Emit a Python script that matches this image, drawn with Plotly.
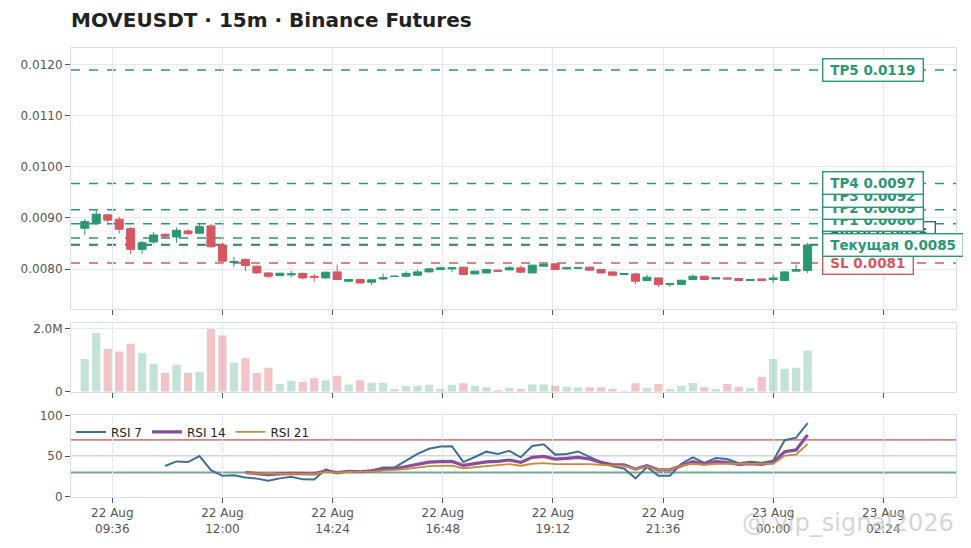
import pandas as pd
import plotly.graph_objects as go
from plotly.subplots import make_subplots

# ─── данные: MOVEUSDT 15m ───
times = pd.date_range("2025-08-22 09:00", periods=64, freq="15min")

opens = [0.00880, 0.00889, 0.009061, 0.008977, 0.008792, 0.008387, 0.008531, 0.008682,
         0.008629, 0.008747, 0.008702, 0.008845, 0.008472, 0.008128, 0.008191, 0.008059,
         0.007927, 0.007876, 0.007888, 0.007916, 0.007862, 0.007829, 0.007947, 0.007764,
         0.007798, 0.007745, 0.007809, 0.007857, 0.007862, 0.007882, 0.007947, 0.007994,
         0.008006, 0.008039, 0.007908, 0.007927, 0.007980, 0.007986, 0.008026, 0.007927,
         0.008059, 0.008104, 0.008006, 0.008020, 0.008039, 0.007994, 0.007947, 0.007896,
         0.007908, 0.007778, 0.007829, 0.007699, 0.007699, 0.007798, 0.007862, 0.007809,
         0.007829, 0.007817, 0.007778, 0.007809, 0.007798, 0.007778, 0.007961, 0.007974]
highs = [0.008982, 0.009159, 0.009081, 0.009022, 0.008825, 0.008550, 0.008727, 0.008698,
         0.008812, 0.008780, 0.008890, 0.008878, 0.008517, 0.008236, 0.008206, 0.008069,
         0.007941, 0.007931, 0.007961, 0.007931, 0.007908, 0.007951, 0.008092, 0.007807,
         0.007804, 0.007804, 0.007916, 0.007872, 0.007961, 0.007994, 0.008020, 0.008035,
         0.008029, 0.008049, 0.007971, 0.008010, 0.007988, 0.008059, 0.008073, 0.008088,
         0.008108, 0.008118, 0.008033, 0.008033, 0.008045, 0.008000, 0.007953, 0.007925,
         0.007915, 0.007896, 0.007835, 0.007723, 0.007790, 0.007896, 0.007870, 0.007835,
         0.007835, 0.007825, 0.007804, 0.007815, 0.007896, 0.007955, 0.008092, 0.008517]
lows = [0.008668, 0.008874, 0.008865, 0.008694, 0.008289, 0.008301, 0.008497, 0.008584,
        0.008517, 0.008662, 0.008688, 0.008419, 0.008124, 0.008039, 0.007961, 0.007912,
        0.007833, 0.007862, 0.007843, 0.007804, 0.007764, 0.007813, 0.007784, 0.007754,
        0.007719, 0.007686, 0.007784, 0.007847, 0.007853, 0.007876, 0.007937, 0.007986,
        0.007941, 0.007886, 0.007898, 0.007921, 0.007953, 0.007980, 0.007931, 0.007921,
        0.008049, 0.007980, 0.008000, 0.008012, 0.007975, 0.007917, 0.007872, 0.007890,
        0.007711, 0.007768, 0.007652, 0.007652, 0.007693, 0.007792, 0.007790, 0.007803,
        0.007803, 0.007770, 0.007772, 0.007772, 0.007731, 0.007772, 0.007955, 0.007927]
closes = [0.008929, 0.009075, 0.008957, 0.008780, 0.008387, 0.008517, 0.008668, 0.008643,
          0.008760, 0.008694, 0.008831, 0.008438, 0.008157, 0.008151, 0.008073, 0.007927,
          0.007862, 0.007921, 0.007908, 0.007829, 0.007843, 0.007941, 0.007798, 0.007798,
          0.007731, 0.007794, 0.007833, 0.007862, 0.007916, 0.007947, 0.008006, 0.008026,
          0.008026, 0.007896, 0.007961, 0.007994, 0.007961, 0.008026, 0.007941, 0.008079,
          0.008092, 0.007994, 0.008026, 0.008026, 0.007980, 0.007927, 0.007882, 0.007916,
          0.007764, 0.007843, 0.007699, 0.007719, 0.007784, 0.007862, 0.007798, 0.007829,
          0.007809, 0.007778, 0.007798, 0.007778, 0.007829, 0.007947, 0.007994, 0.008472]

volumes_m = [1.04, 1.87, 1.36, 1.28, 1.53, 1.23, 0.89, 0.60, 0.86, 0.60, 0.64, 2.00, 1.79, 0.92,
             1.07, 0.60, 0.76, 0.25, 0.35, 0.31, 0.43, 0.37, 0.51, 0.23, 0.37, 0.29, 0.29, 0.09,
             0.19, 0.19, 0.22, 0.09, 0.22, 0.27, 0.19, 0.14, 0.05, 0.12, 0.09, 0.23, 0.23, 0.19,
             0.16, 0.14, 0.14, 0.14, 0.09, 0.03, 0.27, 0.12, 0.25, 0.09, 0.19, 0.28, 0.14, 0.09,
             0.25, 0.16, 0.12, 0.48, 1.04, 0.73, 0.76, 1.31]

N = None
rsi7 = [N, N, N, N, N, N, N, 37.9, 43.6, 42.8, 50.2, 32.9, 25.9, 26.7, 23.9, 22.5, 20.0, 22.8,
        24.7, 21.6, 21.4, 33.9, 28.8, 31.7, 30.5, 32.6, 36.2, 36.2, 44.4, 52.7, 59.0, 61.9, 62.1,
        42.8, 49.0, 55.5, 52.7, 56.5, 48.6, 62.5, 64.6, 51.9, 52.7, 55.8, 49.2, 42.7, 37.5, 35.0,
        22.8, 36.7, 26.0, 26.0, 40.8, 48.6, 41.8, 47.7, 46.5, 41.3, 43.1, 41.8, 44.4, 69.5, 72.7, 90.5]
rsi14 = [N] * 14 + [30.0, 28.8, 27.4, 28.4, 29.0, 28.6, 28.4, 32.1, 30.0, 31.5, 30.9, 31.9, 33.8,
        34.6, 37.0, 39.9, 42.6, 43.4, 43.6, 38.7, 40.6, 43.0, 43.6, 45.3, 42.4, 48.6, 49.8, 46.5,
        47.3, 48.6, 46.5, 42.4, 39.5, 39.5, 34.1, 38.3, 33.3, 33.3, 38.3, 43.2, 40.3, 43.2, 42.4,
        40.0, 40.7, 40.0, 42.4, 55.5, 57.6, 76.1]
rsi21 = [N] * 14 + [29.0, 28.5, 28.0, 28.3, 28.6, 28.5, 28.4, 30.8, 29.8, 30.6, 30.4, 31.0, 32.2,
        33.0, 34.2, 36.0, 37.8, 38.2, 38.3, 35.2, 36.5, 38.3, 39.0, 40.3, 38.3, 40.7, 41.5, 40.3,
        40.3, 40.7, 40.3, 39.5, 38.3, 38.3, 34.1, 37.4, 33.3, 33.3, 38.3, 40.7, 39.5, 40.7, 40.7,
        40.3, 40.3, 40.3, 40.7, 50.6, 51.8, 65.0]

# уровни сигнала
level_names = ["Entry", "SL", "Текущая", "TP1", "TP2", "TP3", "TP4", "TP5"]
level_values = [0.00848, 0.00812, closes[-1], 0.00861, 0.008886, 0.009161, 0.009672, 0.01189]

GREEN = "#2a9873"
RED = "#d65760"
ENTRY = "#44607f"
level_colors = {"SL": RED, "Entry": ENTRY}

fig = make_subplots(rows=3, cols=1, shared_xaxes=True)

fig.add_trace(go.Candlestick(
    x=times, open=opens, high=highs, low=lows, close=closes,
    increasing=dict(line=dict(color=GREEN, width=1), fillcolor=GREEN),
    decreasing=dict(line=dict(color=RED, width=1), fillcolor=RED),
    whiskerwidth=0, showlegend=False, name="MOVEUSDT",
), row=1, col=1)

vol_colors = ["rgba(42,152,115,0.28)" if c >= o else "rgba(214,87,96,0.35)"
              for o, c in zip(opens, closes)]
fig.add_trace(go.Bar(
    x=times, y=[v * 1e6 for v in volumes_m], marker_color=vol_colors,
    marker_line_width=0, width=15 * 60 * 1000 * 0.72, showlegend=False, name="Volume",
), row=2, col=1)

fig.add_trace(go.Scatter(x=times, y=rsi7, mode="lines", name="RSI 7",
                         line=dict(color="#3f6f98", width=2)), row=3, col=1)
fig.add_trace(go.Scatter(x=times, y=rsi14, mode="lines", name="RSI 14",
                         line=dict(color="#8a4c9c", width=3.2)), row=3, col=1)
fig.add_trace(go.Scatter(x=times, y=rsi21, mode="lines", name="RSI 21",
                         line=dict(color="#c98b3c", width=1.8)), row=3, col=1)

# горизонтальные уровни RSI
fig.add_hline(y=70, line=dict(color="#cf8586", width=1.8), row=3, col=1, layer="below")
fig.add_hline(y=50, line=dict(color="#a5adb5", width=1.2), row=3, col=1, layer="below")
fig.add_hline(y=30, line=dict(color="#78a597", width=2.2), row=3, col=1, layer="below")

# линии TP/SL/Entry и подписи с раздвижкой (текущая ниже входа)
y_lo, y_hi = 0.00723, 0.01232
px_per_unit = 260 / (y_hi - y_lo)
min_gap = 12.3 / px_per_unit
stack = ["SL", "Текущая", "Entry", "TP1", "TP2", "TP3", "TP4", "TP5"]
label_y = {}
prev = None
for name in stack:
    y = level_values[level_names.index(name)]
    if prev is not None and y < prev + min_gap:
        y = prev + min_gap
    label_y[name] = y
    prev = y

for name, val in zip(level_names, level_values):
    col = level_colors.get(name, GREEN)
    fig.add_hline(y=val, line=dict(color=col, width=1.6, dash="dash"), row=1, col=1, layer="below")

draw_order = ["Entry", "TP1", "TP2", "TP3", "TP4", "TP5", "SL", "Текущая"]
for name in draw_order:
    val = level_values[level_names.index(name)]
    col = level_colors.get(name, GREEN)
    fig.add_annotation(
        x=0.849, xref="paper", xanchor="left", y=label_y[name], yref="y", yanchor="middle",
        text=f"&nbsp;<b>{name} {val:.4f}</b>&nbsp;", showarrow=False,
        font=dict(color=col, size=13.5), bgcolor="white", bordercolor=col,
        borderwidth=1.4, borderpad=2.5,
    )

# водяной знак
fig.add_annotation(x=1.0, xref="paper", xanchor="right", y=-0.058, yref="paper", yanchor="middle",
                   text="@ vip_signal2026", showarrow=False,
                   font=dict(size=24, color="rgba(200,200,200,0.75)"))

GRID = "#e3ebf1"
FRAME = "#d5e0e8"
x_range = ["2025-08-22 08:42", "2025-08-23 03:59"]
for i, dom in zip([1, 2, 3], [[0.4196, 1.0], [0.2344, 0.3884], [0.0, 0.1819]]):
    fig.update_xaxes(
        row=i, col=1, range=x_range, rangeslider_visible=False, type="date",
        tick0="2025-08-22 09:36", dtick=2.4 * 3600 * 1000, tickformat="%d %b<br>%H:%M",
        showgrid=True, gridcolor=GRID, ticks="outside", ticklen=5, tickcolor="#555",
        showline=True, linecolor=FRAME, mirror=True,
    )
    fig.update_yaxes(
        row=i, col=1, domain=dom, showgrid=True, gridcolor=GRID, ticks="outside",
        ticklen=5, tickcolor="#555", showline=True, linecolor=FRAME, mirror=True,
        zeroline=False,
    )

fig.update_yaxes(row=1, col=1, range=[y_lo, y_hi], dtick=0.001, tickformat=".4f")
fig.update_yaxes(row=2, col=1, range=[0, 2.2e6], tickvals=[0, 2e6], ticktext=["0", "2.0M"])
fig.update_yaxes(row=3, col=1, range=[0, 100], tickvals=[0, 50, 100])

# страница даёт отступ 8px, поэтому фигура чуть меньше окна
fig.update_layout(
    width=957, height=536,
    margin=dict(l=63, r=8, t=40, b=44),
    paper_bgcolor="white", plot_bgcolor="white",
    font=dict(family="DejaVu Sans", size=12, color="#555"),
    title=dict(text="<b>MOVEUSDT · 15m · Binance Futures</b>", x=63 / 957, xanchor="left",
               y=1 - 12 / 536, yanchor="middle", font=dict(size=20, color="#222")),
    legend=dict(orientation="h", x=0.0, xanchor="left", y=0.145, yanchor="middle",
                bgcolor="rgba(0,0,0,0)", font=dict(size=12, color="#222")),
    boxgap=0.3, boxgroupgap=0.0,
)

fig.write_html("out.html")
print("out.html saved")
